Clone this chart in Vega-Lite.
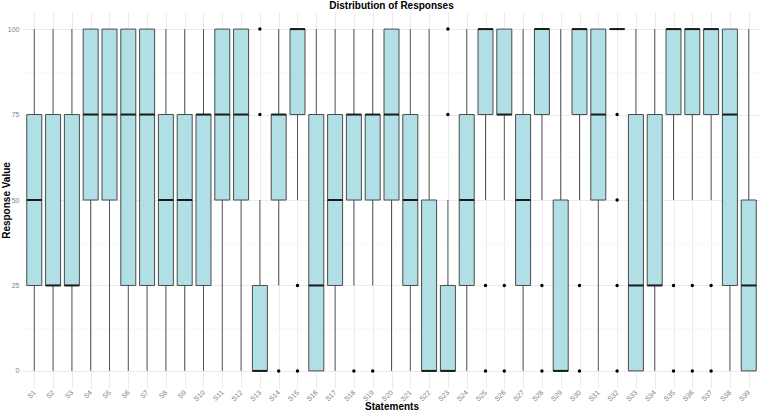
{
  "$schema": "https://vega.github.io/schema/vega-lite/v6.json",
  "width": 737,
  "height": 376,
  "autosize": {"type": "none"},
  "padding": {"left": 23, "top": 12, "right": 0, "bottom": 24},
  "background": "white",
  "title": {"text": "Distribution of Responses", "fontSize": 10, "fontWeight": "bold", "font": "Liberation Sans", "anchor": "middle", "offset": 1, "color": "#000000"},
  "datasets": {
    "boxes": [
      {"s": "S1", "lo": 0, "q1": 25, "med": 50, "q3": 75, "hi": 100},
      {"s": "S2", "lo": 0, "q1": 25, "med": 25, "q3": 75, "hi": 100},
      {"s": "S3", "lo": 0, "q1": 25, "med": 25, "q3": 75, "hi": 100},
      {"s": "S4", "lo": 0, "q1": 50, "med": 75, "q3": 100, "hi": 100},
      {"s": "S5", "lo": 0, "q1": 50, "med": 75, "q3": 100, "hi": 100},
      {"s": "S6", "lo": 0, "q1": 25, "med": 75, "q3": 100, "hi": 100},
      {"s": "S7", "lo": 0, "q1": 25, "med": 75, "q3": 100, "hi": 100},
      {"s": "S8", "lo": 0, "q1": 25, "med": 50, "q3": 75, "hi": 100},
      {"s": "S9", "lo": 0, "q1": 25, "med": 50, "q3": 75, "hi": 100},
      {"s": "S10", "lo": 0, "q1": 25, "med": 75, "q3": 75, "hi": 100},
      {"s": "S11", "lo": 0, "q1": 50, "med": 75, "q3": 100, "hi": 100},
      {"s": "S12", "lo": 0, "q1": 50, "med": 75, "q3": 100, "hi": 100},
      {"s": "S13", "lo": 0, "q1": 0, "med": 0, "q3": 25, "hi": 50},
      {"s": "S14", "lo": 25, "q1": 50, "med": 75, "q3": 75, "hi": 100},
      {"s": "S15", "lo": 50, "q1": 75, "med": 100, "q3": 100, "hi": 100},
      {"s": "S16", "lo": 0, "q1": 0, "med": 25, "q3": 75, "hi": 100},
      {"s": "S17", "lo": 0, "q1": 25, "med": 50, "q3": 75, "hi": 100},
      {"s": "S18", "lo": 25, "q1": 50, "med": 75, "q3": 75, "hi": 100},
      {"s": "S19", "lo": 25, "q1": 50, "med": 75, "q3": 75, "hi": 100},
      {"s": "S20", "lo": 0, "q1": 50, "med": 75, "q3": 100, "hi": 100},
      {"s": "S21", "lo": 0, "q1": 25, "med": 50, "q3": 75, "hi": 100},
      {"s": "S22", "lo": 0, "q1": 0, "med": 0, "q3": 50, "hi": 100},
      {"s": "S23", "lo": 0, "q1": 0, "med": 0, "q3": 25, "hi": 50},
      {"s": "S24", "lo": 0, "q1": 25, "med": 50, "q3": 75, "hi": 100},
      {"s": "S25", "lo": 50, "q1": 75, "med": 100, "q3": 100, "hi": 100},
      {"s": "S26", "lo": 50, "q1": 75, "med": 75, "q3": 100, "hi": 100},
      {"s": "S27", "lo": 0, "q1": 25, "med": 50, "q3": 75, "hi": 100},
      {"s": "S28", "lo": 50, "q1": 75, "med": 100, "q3": 100, "hi": 100},
      {"s": "S29", "lo": 0, "q1": 0, "med": 0, "q3": 50, "hi": 100},
      {"s": "S30", "lo": 50, "q1": 75, "med": 100, "q3": 100, "hi": 100},
      {"s": "S31", "lo": 0, "q1": 50, "med": 75, "q3": 100, "hi": 100},
      {"s": "S32", "lo": 100, "q1": 100, "med": 100, "q3": 100, "hi": 100},
      {"s": "S33", "lo": 0, "q1": 0, "med": 25, "q3": 75, "hi": 100},
      {"s": "S34", "lo": 0, "q1": 25, "med": 25, "q3": 75, "hi": 100},
      {"s": "S35", "lo": 50, "q1": 75, "med": 100, "q3": 100, "hi": 100},
      {"s": "S36", "lo": 50, "q1": 75, "med": 100, "q3": 100, "hi": 100},
      {"s": "S37", "lo": 50, "q1": 75, "med": 100, "q3": 100, "hi": 100},
      {"s": "S38", "lo": 0, "q1": 25, "med": 75, "q3": 100, "hi": 100},
      {"s": "S39", "lo": 0, "q1": 0, "med": 25, "q3": 50, "hi": 100}
    ],
    "outliers": [
      {"s": "S13", "v": 75}, {"s": "S13", "v": 100},
      {"s": "S14", "v": 0},
      {"s": "S15", "v": 25}, {"s": "S15", "v": 0},
      {"s": "S18", "v": 0},
      {"s": "S19", "v": 0},
      {"s": "S23", "v": 75}, {"s": "S23", "v": 100},
      {"s": "S25", "v": 25}, {"s": "S25", "v": 0},
      {"s": "S26", "v": 25}, {"s": "S26", "v": 0},
      {"s": "S28", "v": 25}, {"s": "S28", "v": 0},
      {"s": "S30", "v": 25}, {"s": "S30", "v": 0},
      {"s": "S32", "v": 75}, {"s": "S32", "v": 50}, {"s": "S32", "v": 25}, {"s": "S32", "v": 0},
      {"s": "S35", "v": 25}, {"s": "S35", "v": 0},
      {"s": "S36", "v": 25}, {"s": "S36", "v": 0},
      {"s": "S37", "v": 25}, {"s": "S37", "v": 0}
    ]
  },
  "encoding": {
    "x": {
      "field": "s", "type": "nominal", "sort": null,
      "scale": {"type": "point", "padding": 0.6, "domain": ["S1","S2","S3","S4","S5","S6","S7","S8","S9","S10","S11","S12","S13","S14","S15","S16","S17","S18","S19","S20","S21","S22","S23","S24","S25","S26","S27","S28","S29","S30","S31","S32","S33","S34","S35","S36","S37","S38","S39"]},
      "axis": {"title": "Statements", "labelAngle": -45, "labelAlign": "right", "labelBaseline": "middle", "labelPadding": 3, "titleY": 21, "titleBaseline": "alphabetic"}
    }
  },
  "layer": [
    {
      "data": {"name": "boxes"},
      "mark": {"type": "rule", "color": "#555555", "strokeWidth": 1},
      "encoding": {
        "y": {"field": "lo", "type": "quantitative", "scale": {"domain": [-5, 105], "nice": false, "zero": false},
          "axis": {"title": "Response Value", "values": [0, 12.5, 25, 37.5, 50, 62.5, 75, 87.5, 100],
            "labelExpr": "datum.value % 25 === 0 ? datum.label : ''",
            "gridWidth": {"condition": {"test": "datum.value % 25 !== 0", "value": 0.5}, "value": 1},
            "gridColor": {"condition": {"test": "datum.value % 25 !== 0", "value": "#f2f2f2"}, "value": "#ebebeb"},
            "titleX": -22, "titleBaseline": "top", "titleAngle": 270}},
        "y2": {"field": "hi"}
      }
    },
    {
      "data": {"name": "boxes"},
      "mark": {"type": "bar", "width": 15, "fill": "#b0e0e6", "stroke": "#4a4a4a", "strokeWidth": 1},
      "encoding": {
        "y": {"field": "q1", "type": "quantitative"},
        "y2": {"field": "q3"}
      }
    },
    {
      "data": {"name": "boxes"},
      "mark": {"type": "tick", "size": 15, "thickness": 2, "color": "#1a1a1a", "opacity": 1},
      "encoding": {
        "y": {"field": "med", "type": "quantitative"}
      }
    },
    {
      "data": {"name": "outliers"},
      "mark": {"type": "point", "filled": true, "color": "#000000", "size": 12, "opacity": 1},
      "encoding": {
        "y": {"field": "v", "type": "quantitative"}
      }
    }
  ],
  "config": {
    "view": {"stroke": null},
    "font": "Liberation Sans",
    "axis": {
      "domain": false,
      "ticks": false,
      "grid": true,
      "gridColor": "#ebebeb",
      "gridWidth": 1,
      "labelFont": "Liberation Sans",
      "labelFontSize": 7,
      "labelColor": "#808080",
      "labelPadding": 4,
      "titleFont": "Liberation Sans",
      "titleFontSize": 10,
      "titleFontWeight": "bold",
      "titleColor": "#000000"
    }
  }
}
